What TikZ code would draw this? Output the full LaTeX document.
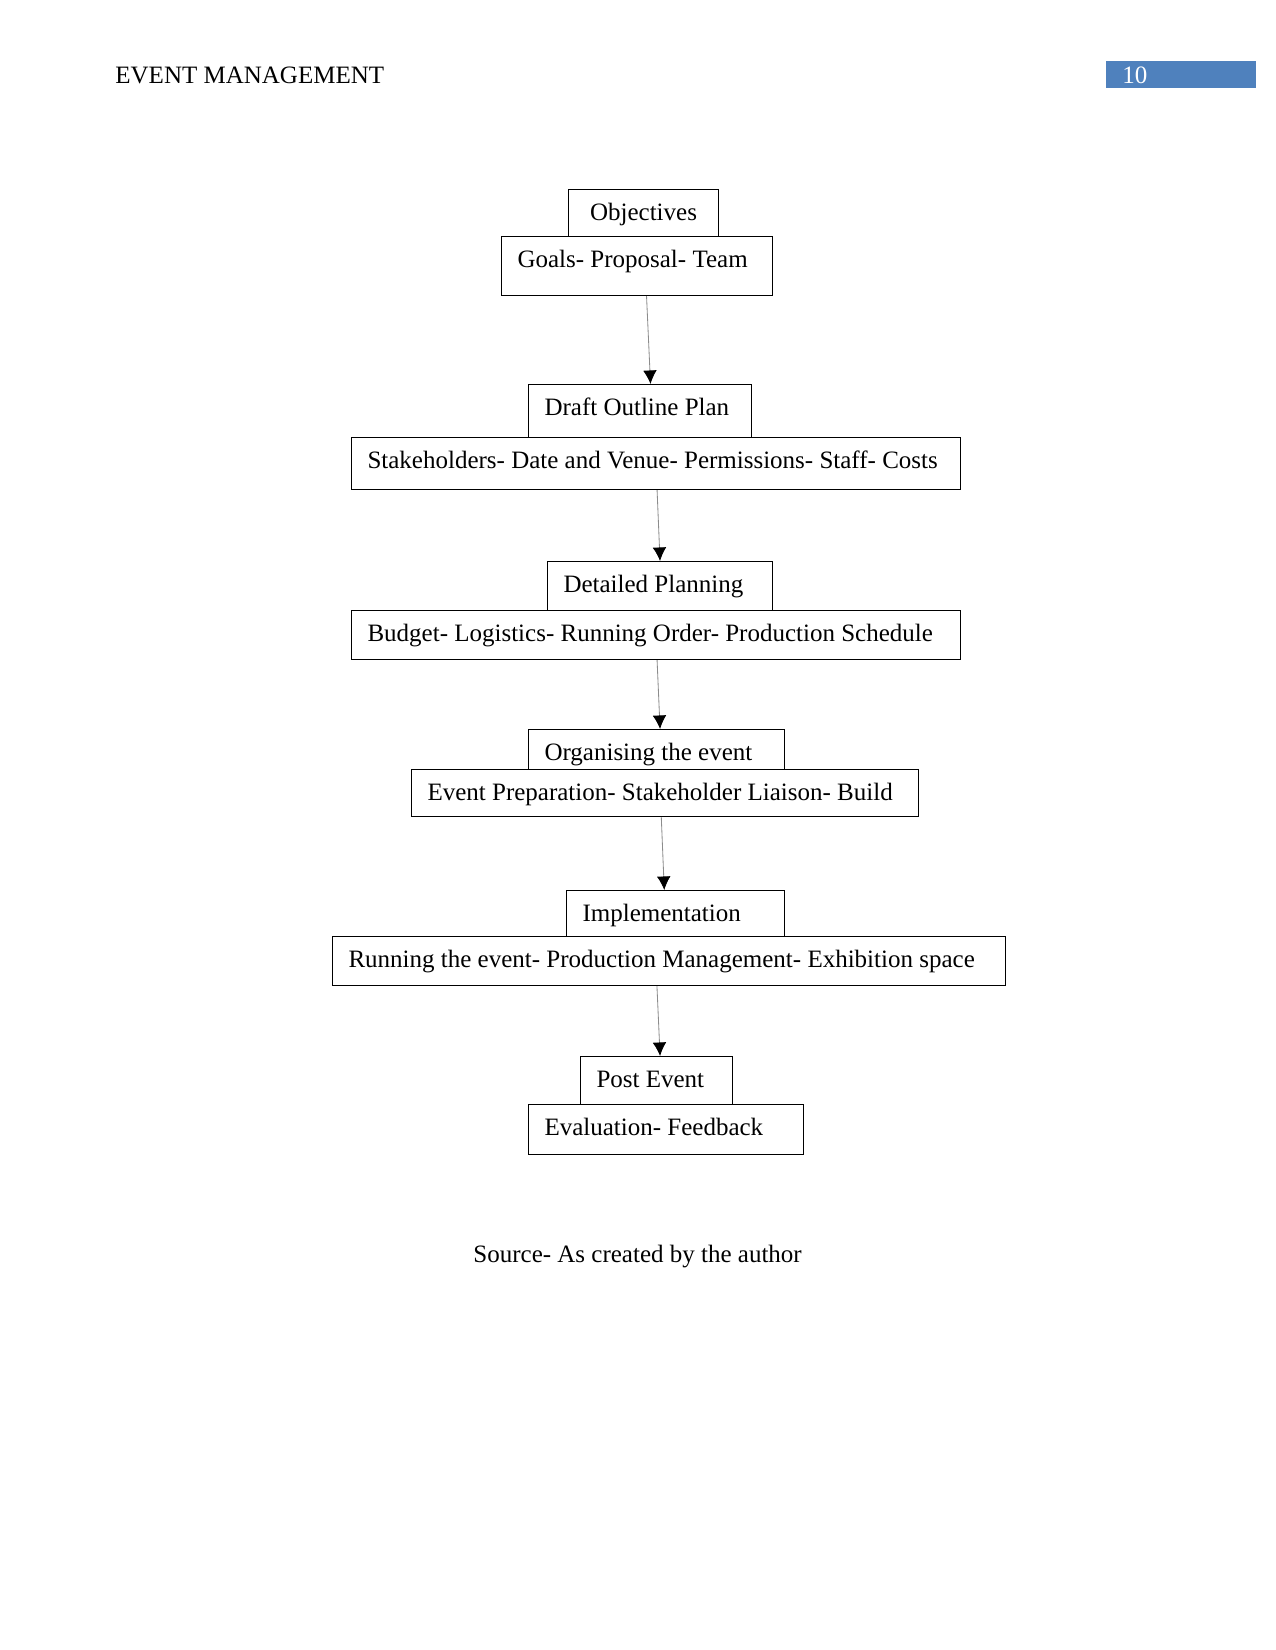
\documentclass[tikz,border=0pt]{standalone}
\usepackage{fontspec}
\setmainfont{Liberation Serif}
\usetikzlibrary{arrows.meta}
\definecolor{pageblue}{RGB}{79,129,189}
\begin{document}
\begin{tikzpicture}[x=0.48pt,y=-0.48pt,
    font=\fontsize{12pt}{14pt}\selectfont,
    stage/.style 2 args={draw, line width=0.5pt, anchor=north west, align=left,
      execute at begin node={\spaceskip=0pt\xspaceskip=0pt\relax},
      inner xsep=7.68pt, inner ysep=0pt, text height=14.88pt,
      text width=#1, text depth=#2},
    flow/.style={draw=black!45, line width=0.4pt, -{Latex[length=6.5pt,width=6.5pt,color=black]}}]
    \useasboundingbox (0,0) rectangle (1275,1650);
    \node[anchor=base west, inner sep=0pt] (title) at (115,84) {EVENT MANAGEMENT};
    \node[fill=pageblue, anchor=north west, minimum width=72pt, minimum height=12.96pt, inner sep=0pt] (pagebox) at (1106,61) {};
    \node[anchor=base west, inner sep=0pt, text=white] (pagenum) at (1122,84) {10};
    \node[stage={56.64pt}{7.68pt}, align=center] (objectives) at (568,189) {Objectives};
    \node[stage={114.72pt}{13.44pt}] (goals) at (501,236) {Goals- Proposal- Team};
    \node[stage={91.68pt}{10.56pt}] (draft) at (528,384) {Draft Outline Plan};
    \node[stage={276.96pt}{10.08pt}] (stakeholders) at (351,437) {Stakeholders- Date and Venue- Permissions- Staff- Costs};
    \node[stage={92.64pt}{8.64pt}] (detailed) at (547,561) {Detailed Planning};
    \node[stage={276.96pt}{8.64pt}] (budget) at (351,610) {Budget- Logistics- Running Order- Production Schedule};
    \node[stage={107.52pt}{4.32pt}] (organising) at (528,729) {Organising the event};
    \node[stage={228pt}{7.68pt}] (preparation) at (411,769) {Event Preparation- Stakeholder Liaison- Build};
    \node[stage={89.28pt}{7.2pt}] (implementation) at (566,890) {Implementation};
    \node[stage={307.68pt}{8.64pt}] (running) at (332,936) {Running the event- Production Management- Exhibition space};
    \node[stage={57.6pt}{8.16pt}] (postevent) at (580,1056) {Post Event};
    \node[stage={116.64pt}{9.12pt}] (evaluation) at (528,1104) {Evaluation- Feedback};
    \draw[flow] ([xshift=4.56pt]goals.south) -- ([xshift=5.04pt]draft.north);
    \draw[flow] ([xshift=0.5pt]stakeholders.south) -- (detailed.north);
    \draw[flow] ([xshift=0.5pt]budget.south) -- ([xshift=1.7pt]organising.north);
    \draw[flow] ([xshift=-1.8pt]preparation.south) -- ([xshift=-5.4pt]implementation.north);
    \draw[flow] ([xshift=-5.8pt]running.south) -- ([xshift=1.7pt]postevent.north);
    \node[anchor=base west, inner sep=0pt] (source) at (473,1262) {Source- As created by the author};
\end{tikzpicture}
\end{document}
